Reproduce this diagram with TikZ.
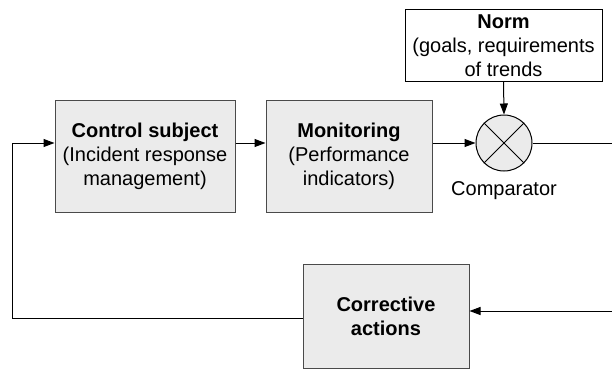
\documentclass[tikz,border=0pt]{standalone}
\usepackage{fontspec}
\setmainfont{Liberation Sans}
\usetikzlibrary{arrows.meta}
\definecolor{boxgray}{HTML}{EBEBEB}
\definecolor{edgegray}{HTML}{4A4A4A}
\tikzset{
  blockbox/.style={draw=edgegray, fill=boxgray, line width=1pt, inner sep=0pt,
    align=center, font=\fontsize{20}{24}\selectfont},
  normbox/.style={draw=black, fill=white, line width=1pt, inner sep=0pt,
    align=center, font=\fontsize{20}{24}\selectfont},
  flow/.style={line width=1pt, -{Triangle[length=11pt,width=8pt]}},
  plain/.style={line width=1pt}
}
\begin{document}
\begin{tikzpicture}[x=1pt, y=-1pt]
\useasboundingbox (0,0) rectangle (612,369);
\node[blockbox, minimum width=180pt, minimum height=112pt] (csub) at (145,156)
  {\textbf{Control subject}\\(Incident response\\management)};
\node[blockbox, minimum width=166pt, minimum height=112pt] (mon) at (349,156)
  {\textbf{Monitoring}\\(Performance\\indicators)};
\node[normbox, minimum width=197pt, minimum height=71pt] (norm) at (503.5,45.5)
  {\textbf{Norm}\\(goals, requirements\\of trends};
\node[circle, draw=black, fill=boxgray, line width=1pt, minimum size=56pt, inner sep=0pt] (comp) at (504,143){};
\draw[plain](comp.north west) -- (comp.south east);
\draw[plain](comp.north east) -- (comp.south west);
\node[font=\fontsize{20}{24}\selectfont] (complbl) at (504,191){Comparator};
\node[blockbox, minimum width=166pt, minimum height=104pt] (corr) at (386,316)
  {\textbf{Corrective}\\\textbf{actions}};
\coordinate (rtop) at (614,143);
\coordinate (rbot) at (614,311);
\coordinate (ltop) at (12,143);
\coordinate (lbot) at (12,318);
\draw[flow](csub.east |- 0,143) -- (mon.west |- 0,143);
\draw[flow](mon.east |- 0,143) -- (comp.west);
\draw[flow](norm.south) -- (comp.north);
\draw[plain](comp.east) -- (rtop) -- (rbot);
\draw[flow](rbot) -- (corr.east |- rbot);
\draw[flow](corr.west |- lbot) -- (lbot) -- (ltop) -- (csub.west |- ltop);
\end{tikzpicture}
\end{document}
